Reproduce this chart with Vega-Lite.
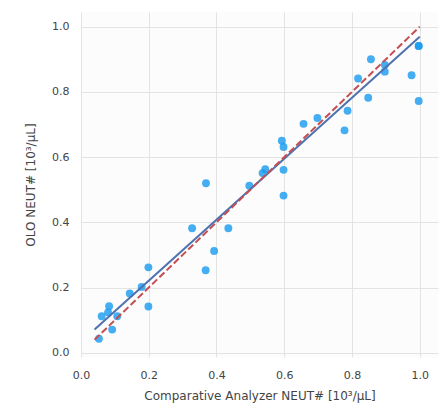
{
  "$schema": "https://vega.github.io/schema/vega-lite/v6.json",
  "width": 357,
  "height": 345,
  "autosize": {"type": "none"},
  "padding": {"left": 81, "top": 12, "right": 3, "bottom": 53},
  "background": "#ffffff",
  "config": {
    "view": {"fill": "#fcfcfc", "stroke": null},
    "font": "DejaVu Sans",
    "axis": {
      "grid": true,
      "gridColor": "#e3e3e3",
      "gridWidth": 1,
      "domain": false,
      "ticks": false,
      "labelFlush": false,
      "labelOverlap": false,
      "labelFont": "DejaVu Sans",
      "labelFontSize": 11,
      "labelColor": "#444444",
      "titleFont": "DejaVu Sans",
      "titleFontSize": 12,
      "titleColor": "#444444",
      "titleFontWeight": "normal"
    }
  },
  "datasets": {
    "points": [
      {"x": 0.053, "y": 0.043},
      {"x": 0.061, "y": 0.112},
      {"x": 0.083, "y": 0.143},
      {"x": 0.080, "y": 0.124},
      {"x": 0.107, "y": 0.112},
      {"x": 0.092, "y": 0.071},
      {"x": 0.144, "y": 0.182},
      {"x": 0.179, "y": 0.202},
      {"x": 0.199, "y": 0.262},
      {"x": 0.199, "y": 0.142},
      {"x": 0.328, "y": 0.382},
      {"x": 0.369, "y": 0.520},
      {"x": 0.368, "y": 0.253},
      {"x": 0.393, "y": 0.312},
      {"x": 0.435, "y": 0.382},
      {"x": 0.497, "y": 0.512},
      {"x": 0.536, "y": 0.551},
      {"x": 0.544, "y": 0.563},
      {"x": 0.593, "y": 0.650},
      {"x": 0.598, "y": 0.631},
      {"x": 0.598, "y": 0.561},
      {"x": 0.598, "y": 0.482},
      {"x": 0.657, "y": 0.702},
      {"x": 0.698, "y": 0.720},
      {"x": 0.778, "y": 0.682},
      {"x": 0.787, "y": 0.742},
      {"x": 0.818, "y": 0.841},
      {"x": 0.848, "y": 0.782},
      {"x": 0.856, "y": 0.900},
      {"x": 0.897, "y": 0.883},
      {"x": 0.897, "y": 0.862},
      {"x": 0.976, "y": 0.851},
      {"x": 0.997, "y": 0.941},
      {"x": 0.997, "y": 0.941},
      {"x": 0.997, "y": 0.772}
    ],
    "lines": [
      {"series": "fit", "x": 0.04, "y": 0.071},
      {"series": "fit", "x": 1.0, "y": 0.969},
      {"series": "identity", "x": 0.04, "y": 0.04},
      {"series": "identity", "x": 1.0, "y": 1.0}
    ]
  },
  "encoding": {
    "x": {
      "field": "x",
      "type": "quantitative",
      "scale": {"domain": [0, 1.054], "nice": false, "zero": false},
      "axis": {
        "values": [0, 0.2, 0.4, 0.6, 0.8, 1.0],
        "format": ".1f",
        "labelPadding": 12,
        "titlePadding": 10,
        "title": "Comparative Analyzer NEUT# [10³/μL]"
      }
    },
    "y": {
      "field": "y",
      "type": "quantitative",
      "scale": {"domain": [-0.013, 1.045], "nice": false, "zero": false},
      "axis": {
        "values": [0, 0.2, 0.4, 0.6, 0.8, 1.0],
        "format": ".1f",
        "labelPadding": 12,
        "titlePadding": 14,
        "title": "OLO NEUT# [10³/μL]"
      }
    }
  },
  "layer": [
    {
      "data": {"name": "points"},
      "mark": {"type": "circle", "size": 62, "color": "#169aef", "opacity": 0.8}
    },
    {
      "data": {"name": "lines"},
      "transform": [{"filter": "datum.series === 'fit'"}],
      "mark": {"type": "line", "color": "#4c72b0", "strokeWidth": 2}
    },
    {
      "data": {"name": "lines"},
      "transform": [{"filter": "datum.series === 'identity'"}],
      "mark": {"type": "line", "color": "#c44e52", "strokeWidth": 2, "strokeDash": [7, 3]}
    }
  ]
}
